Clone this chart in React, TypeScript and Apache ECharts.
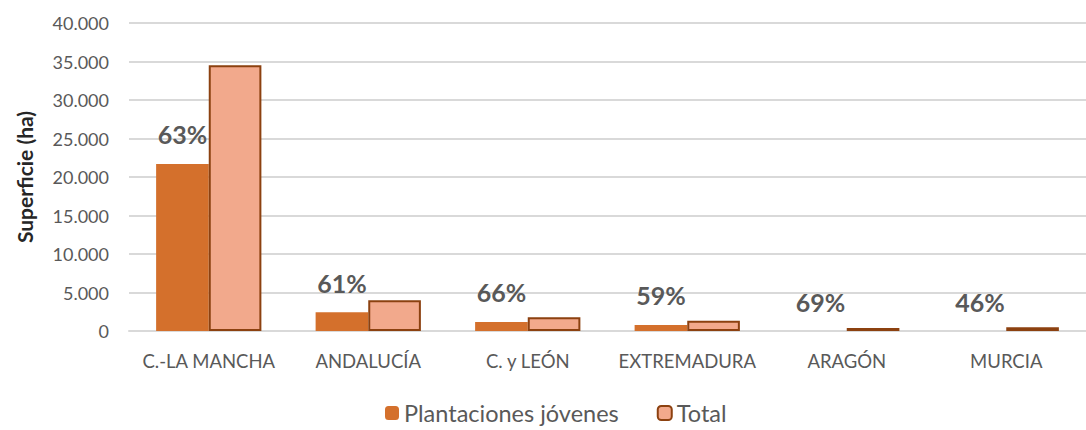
import React, { useEffect, useRef } from "react";
import * as echarts from "echarts";

const categories = ["C.-LA MANCHA", "ANDALUCÍA", "C. y LEÓN", "EXTREMADURA", "ARAGÓN", "MURCIA"];
const plantaciones = [21700, 2450, 1180, 780, 0, 0];
const total = [34500, 4000, 1800, 1330, 380, 480];
const pctLabels = ["63%", "61%", "66%", "59%", "69%", "46%"];
const yTicks = { min: 0, max: 40000, interval: 5000 };

const FONT = "Lato, 'Open Sans', sans-serif";

export default function App() {
  const ref = useRef<HTMLDivElement>(null);
  useEffect(() => {
    if (!ref.current) return;
    const chart = echarts.init(ref.current, null, { renderer: "svg" });
    chart.setOption({
      animation: false,
      textStyle: { fontFamily: FONT },
      grid: { left: 129, right: -7, top: 23, bottom: 99, containLabel: false },
      legend: {
        bottom: 0,
        left: 380,
        itemWidth: 14,
        itemHeight: 14,
        itemGap: 38,
        textStyle: { color: "#595959", fontSize: 23.5, fontFamily: FONT },
        data: ["Plantaciones jóvenes", "Total"],
      },
      xAxis: {
        type: "category",
        data: categories,
        axisTick: { show: false },
        axisLine: { lineStyle: { color: "#D9D9D9", width: 2 } },
        axisLabel: { color: "#595959", fontSize: 18.5, margin: 20, interval: 0 },
      },
      yAxis: {
        type: "value",
        min: yTicks.min,
        max: yTicks.max,
        interval: yTicks.interval,
        name: "Superficie (ha)",
        nameLocation: "middle",
        nameGap: 94,
        nameTextStyle: { color: "#262626", fontSize: 21, fontWeight: "bold" },
        axisLine: { show: false },
        axisTick: { show: false },
        splitLine: { lineStyle: { color: "#D9D9D9", width: 2 } },
        axisLabel: {
          color: "#595959",
          fontSize: 18,
          margin: 20,
          formatter: (v: number) => v.toLocaleString("de-DE"),
        },
      },
      series: [
        {
          name: "Plantaciones jóvenes",
          type: "bar",
          data: plantaciones,
          barGap: "0%",
          barCategoryGap: "34%",
          itemStyle: { color: "#D4702C" },
          label: {
            show: true,
            position: "top",
            distance: 17,
            color: "#595959",
            fontSize: 25,
            fontWeight: "bold",
            formatter: (p: any) => pctLabels[p.dataIndex],
          },
        },
        {
          name: "Total",
          type: "bar",
          data: total,
          barGap: "0%",
          barCategoryGap: "34%",
          itemStyle: { color: "#F2A98C", borderColor: "#8C4110", borderWidth: 2 },
        },
      ],
    });
    return () => chart.dispose();
  }, []);
  return (
    <div
      ref={ref}
      style={{ position: "fixed", left: 0, top: 0, width: 1086, height: 430, background: "#fff" }}
    />
  );
}
